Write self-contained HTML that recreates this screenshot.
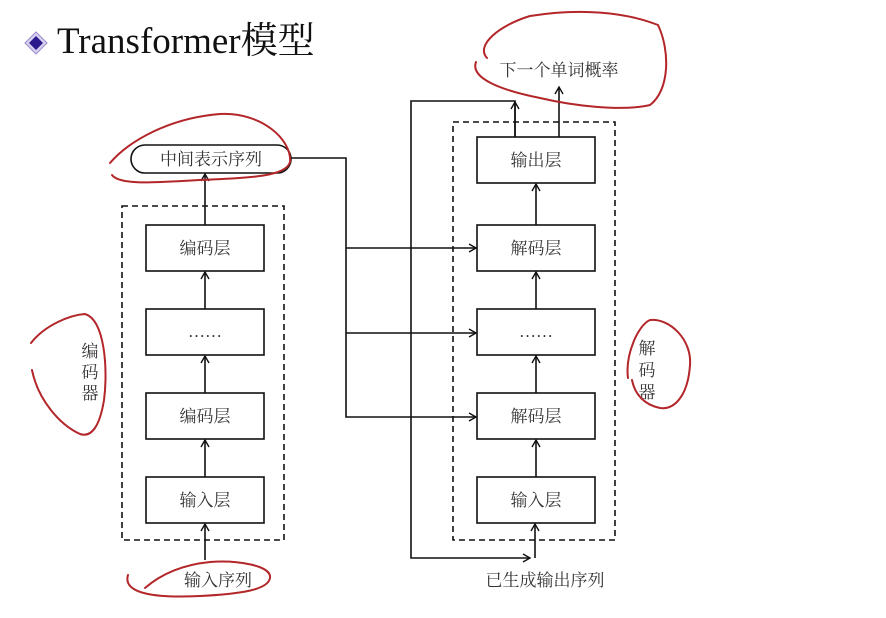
<!DOCTYPE html>
<html><head><meta charset="utf-8"><style>
html,body{margin:0;padding:0;background:#fff;}
svg{display:block;}
text{font-family:"Liberation Serif","Noto Serif CJK SC","Noto Sans CJK SC",serif;fill:#333;}
</style></head><body>
<svg width="886" height="618" viewBox="0 0 886 618" xmlns="http://www.w3.org/2000/svg">
<defs>
<marker id="a" markerWidth="10" markerHeight="10" refX="8" refY="5" orient="auto" markerUnits="userSpaceOnUse">
<path d="M1,1 L8,5 L1,9" fill="none" stroke="#111" stroke-width="1.4"/>
</marker>
</defs>
<polygon points="36,32 47,43 36,54 25,43" fill="#d8d0f0" stroke="#9a8ccc" stroke-width="1"/>
<polygon points="36,36 43,43 36,50 29,43" fill="#2a1a8c"/>
<text x="57" y="53" font-size="37" style="fill:#111">Transformer模型</text>

<g stroke="#111" stroke-width="1.6" fill="#fff">
<rect x="122" y="206" width="162" height="334" fill="none" stroke-dasharray="6,4"/>
<rect x="453" y="122" width="162" height="418" fill="none" stroke-dasharray="6,4"/>
<rect x="146" y="225" width="118" height="46"/>
<rect x="146" y="309" width="118" height="46"/>
<rect x="146" y="393" width="118" height="46"/>
<rect x="146" y="477" width="118" height="46"/>
<rect x="477" y="137" width="118" height="46"/>
<rect x="477" y="225" width="118" height="46"/>
<rect x="477" y="309" width="118" height="46"/>
<rect x="477" y="393" width="118" height="46"/>
<rect x="477" y="477" width="118" height="46"/>
<rect x="131" y="145" width="160" height="28" rx="14"/>
</g>
<g stroke="#111" stroke-width="1.6" fill="none">
<line x1="205" y1="560" x2="205" y2="524" marker-end="url(#a)"/>
<line x1="205" y1="477" x2="205" y2="440" marker-end="url(#a)"/>
<line x1="205" y1="393" x2="205" y2="356" marker-end="url(#a)"/>
<line x1="205" y1="309" x2="205" y2="272" marker-end="url(#a)"/>
<line x1="205" y1="225" x2="205" y2="174" marker-end="url(#a)"/>
<line x1="536" y1="477" x2="536" y2="440" marker-end="url(#a)"/>
<line x1="536" y1="393" x2="536" y2="356" marker-end="url(#a)"/>
<line x1="536" y1="309" x2="536" y2="272" marker-end="url(#a)"/>
<line x1="536" y1="225" x2="536" y2="184" marker-end="url(#a)"/>
<polyline points="291,158 346,158 346,417 476,417" marker-end="url(#a)"/>
<line x1="346" y1="248" x2="476" y2="248" marker-end="url(#a)"/>
<line x1="346" y1="333" x2="476" y2="333" marker-end="url(#a)"/>
<polyline points="515,137 515,101 411,101 411,558 530,558" marker-end="url(#a)"/>
<line x1="535" y1="558" x2="535" y2="524" marker-end="url(#a)"/>
<line x1="515" y1="137" x2="515" y2="102" marker-end="url(#a)"/>
<line x1="559" y1="137" x2="559" y2="87" marker-end="url(#a)"/>
</g>
<g font-size="17" text-anchor="middle">
<text x="205" y="254">编码层</text>
<text x="205" y="337">……</text>
<text x="205" y="422">编码层</text>
<text x="205" y="506">输入层</text>
<text x="536" y="166">输出层</text>
<text x="536" y="254">解码层</text>
<text x="536" y="337">……</text>
<text x="536" y="422">解码层</text>
<text x="536" y="506">输入层</text>
<text x="211" y="165">中间表示序列</text>
<text x="218" y="586">输入序列</text>
<text x="545" y="586">已生成输出序列</text>
<text x="559" y="76">下一个单词概率</text>
<text x="90" y="357">编</text><text x="90" y="378">码</text><text x="90" y="399">器</text>
<text x="647" y="354">解</text><text x="647" y="376">码</text><text x="647" y="398">器</text>
</g>
<g stroke="#b3262a" stroke-width="2" fill="none" stroke-linecap="round">
<path d="M110,163 C130,140 170,118 220,114 C262,112 292,140 290,162 C286,178 240,178 200,180 C160,182 120,186 112,175"/>
<path d="M487,58 C475,45 500,25 530,16 C580,8 625,12 658,25 C670,50 670,90 650,105 C620,112 570,105 540,98 C500,90 470,78 476,62"/>
<path d="M31,343 C45,325 70,315 85,314 C105,320 108,370 104,400 C100,425 92,438 80,434 C60,425 38,400 32,370"/>
<path d="M628,378 C625,355 638,325 650,320 C670,318 692,340 690,365 C688,395 675,410 660,408 C645,405 635,395 632,380"/>
<path d="M128,575 C122,595 160,598 200,596 C240,594 268,590 270,578 C272,565 235,560 210,562 C180,565 160,575 145,588"/>
</g>
</svg>
</body></html>
